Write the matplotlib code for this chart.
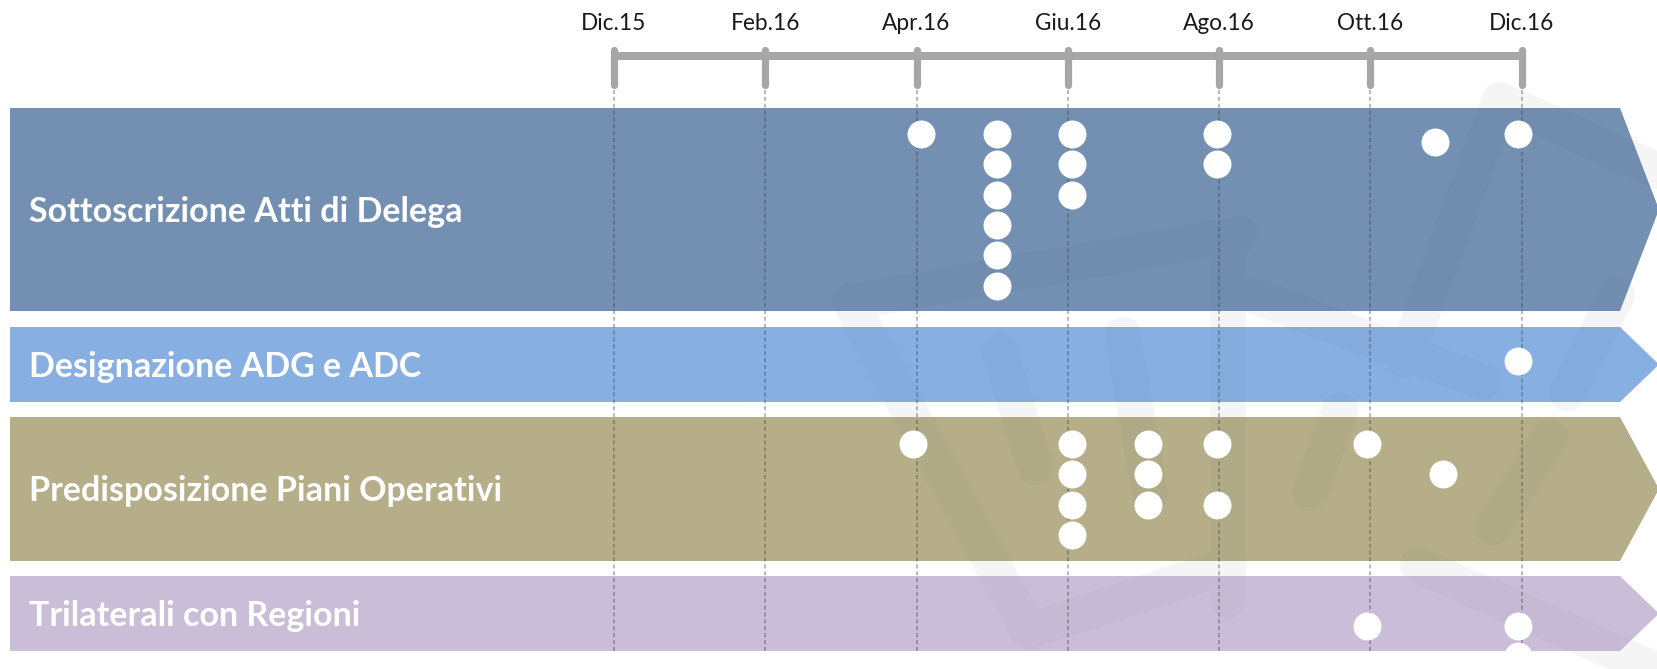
import numpy as np
import matplotlib
matplotlib.use("Agg")
import matplotlib.pyplot as plt
from matplotlib import font_manager
from matplotlib.patches import Polygon
from matplotlib.textpath import TextPath
from matplotlib.font_manager import FontProperties

W, H = 1657, 669

# timeline (months after Dic.15)
tick_months = [0, 2, 4, 6, 8, 10, 12]
tick_labels = ["Dic.15", "Feb.16", "Apr.16", "Giu.16", "Ago.16", "Ott.16", "Dic.16"]

phases = ["Sottoscrizione Atti di Delega", "Designazione ADG e ADC",
          "Predisposizione Piani Operativi", "Trilaterali con Regioni"]

# milestones per phase: month and stack level inside the band
atti_month = [4.06, 5.06, 5.06, 5.06, 5.06, 5.06, 5.06, 6.06, 6.06, 6.06, 7.97, 7.97, 10.86, 11.96]
atti_level = [0, 0, 1, 2, 3, 4, 5, 0, 1, 2, 0, 1, 0.28, 0]
adg_month = [11.96]
adg_level = [0]
piani_month = [3.96, 6.06, 6.06, 6.06, 6.06, 7.06, 7.06, 7.06, 7.97, 7.97, 9.96, 10.96]
piani_level = [0, 0, 1, 2, 3, 0, 1, 2, 0, 2, 0, 1]
tril_month = [9.96, 11.96, 11.96]
tril_level = [0, 0, 1]

milestones = [(atti_month, atti_level), (adg_month, adg_level),
              (piani_month, piani_level), (tril_month, tril_level)]

# layout in pixels
band_top = [108, 327, 417, 576]
band_bot = [311, 402, 561, 651]
band_colors = ["#7390B3", "#87AFE1", "#B5AE89", "#C9BDD8"]
dot_base = [134, 361, 444, 626]
dot_step = 30.3
x0_px, x12_px = 614, 1521.5
ppm = (x12_px - x0_px) / 12

names = {f.name for f in font_manager.fontManager.ttflist}
family = "Liberation Sans Narrow" if "Liberation Sans Narrow" in names else "Lato"

fig = plt.figure(figsize=(W / 100, H / 100), dpi=100)
bg = fig.add_axes([0, 0, 1, 1])
bg.set_xlim(0, W)
bg.set_ylim(H, 0)
bg.axis("off")

ax = fig.add_axes([0, 0, 1, 1])
ax.set_xlim(-x0_px / ppm, (W - x0_px) / ppm)
ax.set_ylim(H, 0)
ax.axis("off")
ax.patch.set_alpha(0)

# faint watermark strokes
strokes = [
    [(850, 302), (1029, 631), (1229, 565)],
    [(850, 302), (1240, 234)],
    [(1228, 240), (1228, 600)],
    [(1000, 352), (1035, 467)],
    [(1123, 335), (1150, 495)],
    [(1252, 295), (1483, 382)],
    [(1340, 410), (1310, 493)],
    [(1405, 360), (1500, 100), (1660, 172)],
    [(1617, 295), (1567, 393)],
    [(1550, 437), (1493, 527)],
    [(1418, 565), (1660, 672)],
]
wx, wy = [], []
for s in strokes:
    wx += [p[0] for p in s] + [np.nan]
    wy += [p[1] for p in s] + [np.nan]
wm_style = dict(color="black", lw=26, solid_capstyle="round", solid_joinstyle="round")
bg.plot(wx, wy, alpha=0.04, zorder=1, **wm_style)

# arrow shaped bands, watermark shows faintly through them
for top, bot, col in zip(band_top, band_bot, band_colors):
    mid = (top + bot) / 2
    pts = [(10, top), (1620, top), (1659, mid), (1620, bot), (10, bot)]
    band = Polygon(pts, closed=True, facecolor=col, edgecolor="none", zorder=2)
    bg.add_patch(band)
    ln, = bg.plot(wx, wy, alpha=0.02, zorder=3, **wm_style)
    ln.set_clip_path(band)

# band labels, fitted to the reference widths
targets = [434, 385, 479, 332]
fig.canvas.draw()
r = fig.canvas.get_renderer()
probe = [bg.text(0, 0, t, fontsize=20, family=family, weight="bold") for t in phases]
meas = sum(p.get_window_extent(r).width for p in probe)
for p in probe:
    p.remove()
fs = 20 * sum(targets) / meas
cap = TextPath((0, 0), "H", size=fs, prop=FontProperties(family=family, weight="bold")).get_extents().height * 100 / 72
for t, top, bot in zip(phases, band_top, band_bot):
    bg.text(29, (top + bot) / 2 + cap / 2, t, fontsize=fs, family=family, weight="bold",
            color="white", va="baseline", ha="left", zorder=4)

# timeline axis
ax.hlines(56, tick_months[0], tick_months[-1], color="#A6A6A6", lw=5.8, zorder=4)
tk = ax.vlines(tick_months, 50, 85, color="#A6A6A6", lw=5.2, zorder=4)
tk.set_capstyle("round")
ax.vlines(tick_months, 90, 651, color="#3A3A3A", alpha=0.45, lw=1.1,
          linestyles=(0, (2.6, 1.9)), zorder=4)

probe = ax.text(0, 0, "Dic.15", fontsize=15, family=family)
tfs = 15 * 65 / probe.get_window_extent(r).width
probe.remove()
for m, lab in zip(tick_months, tick_labels):
    ax.text(m, 23, lab, fontsize=tfs, family=family, ha="center", va="center",
            color="#1A1A1A", zorder=4)

# milestone dots
for (months, levels), base in zip(milestones, dot_base):
    ys = [base + lv * dot_step for lv in levels]
    ax.scatter(months, ys, s=406, c="white", linewidths=0, zorder=6)

fig.savefig("out.png", dpi=100)
